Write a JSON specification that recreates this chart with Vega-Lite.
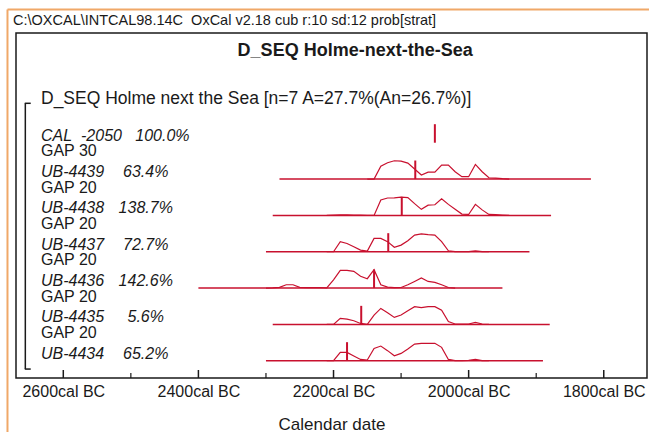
{
  "$schema": "https://vega.github.io/schema/vega-lite/v6.json",
  "width": 631,
  "height": 345,
  "autosize": {"type": "none"},
  "padding": {"left": 16, "top": 33, "right": 2, "bottom": 57},
  "background": "white",
  "config": {
    "view": {"stroke": "#1a1a1a", "strokeWidth": 1.5},
    "font": "Liberation Sans",
    "text": {"font": "Liberation Sans", "color": "#1a1a1a"},
    "axisX": {
      "labelExpr": "(-datum.value) + 'cal BC'",
      "ticks": false,
      "domain": false, "grid": false,
      "labelFont": "Liberation Sans", "labelFontSize": 16, "labelColor": "#1a1a1a",
      "labelPadding": 5, "labelFlush": false, "labelOverlap": false,
      "titleFont": "Liberation Sans", "titleFontSize": 17, "titleFontWeight": "normal",
      "titleColor": "#1a1a1a", "titlePadding": 17
    }
  },
  "datasets": {
    "curves": [
      {"s":"UB-4439","r":1,"year":-2150,"p":0},{"s":"UB-4439","r":1,"year":-2140,"p":0},{"s":"UB-4439","r":1,"year":-2130,"p":0.7},{"s":"UB-4439","r":1,"year":-2120,"p":0.89},{"s":"UB-4439","r":1,"year":-2110,"p":1.0},{"s":"UB-4439","r":1,"year":-2100,"p":0.98},{"s":"UB-4439","r":1,"year":-2090,"p":0.87},{"s":"UB-4439","r":1,"year":-2080,"p":0.55},{"s":"UB-4439","r":1,"year":-2070,"p":0.22},{"s":"UB-4439","r":1,"year":-2060,"p":0.38},{"s":"UB-4439","r":1,"year":-2050,"p":0.38},{"s":"UB-4439","r":1,"year":-2040,"p":0.76},{"s":"UB-4439","r":1,"year":-2030,"p":0.76},{"s":"UB-4439","r":1,"year":-2020,"p":0.4},{"s":"UB-4439","r":1,"year":-2010,"p":0.13},{"s":"UB-4439","r":1,"year":-2000,"p":0.13},{"s":"UB-4439","r":1,"year":-1990,"p":0.8},{"s":"UB-4439","r":1,"year":-1980,"p":0.4},{"s":"UB-4439","r":1,"year":-1970,"p":0.07},{"s":"UB-4439","r":1,"year":-1960,"p":0.05},{"s":"UB-4439","r":1,"year":-1950,"p":0.02},{"s":"UB-4439","r":1,"year":-1940,"p":0},
      {"s":"UB-4438","r":2,"year":-2210,"p":0},{"s":"UB-4438","r":2,"year":-2200,"p":0.02},{"s":"UB-4438","r":2,"year":-2190,"p":0.03},{"s":"UB-4438","r":2,"year":-2180,"p":0.03},{"s":"UB-4438","r":2,"year":-2170,"p":0.02},{"s":"UB-4438","r":2,"year":-2160,"p":0.01},{"s":"UB-4438","r":2,"year":-2150,"p":0},{"s":"UB-4438","r":2,"year":-2140,"p":0},{"s":"UB-4438","r":2,"year":-2130,"p":0.84},{"s":"UB-4438","r":2,"year":-2120,"p":0.95},{"s":"UB-4438","r":2,"year":-2110,"p":0.96},{"s":"UB-4438","r":2,"year":-2100,"p":1.0},{"s":"UB-4438","r":2,"year":-2090,"p":0.97},{"s":"UB-4438","r":2,"year":-2080,"p":0.64},{"s":"UB-4438","r":2,"year":-2070,"p":0.33},{"s":"UB-4438","r":2,"year":-2060,"p":0.56},{"s":"UB-4438","r":2,"year":-2050,"p":0.58},{"s":"UB-4438","r":2,"year":-2040,"p":0.9},{"s":"UB-4438","r":2,"year":-2030,"p":0.6},{"s":"UB-4438","r":2,"year":-2020,"p":0.33},{"s":"UB-4438","r":2,"year":-2010,"p":0.07},{"s":"UB-4438","r":2,"year":-2000,"p":0.05},{"s":"UB-4438","r":2,"year":-1990,"p":0.6},{"s":"UB-4438","r":2,"year":-1980,"p":0.3},{"s":"UB-4438","r":2,"year":-1970,"p":0.05},{"s":"UB-4438","r":2,"year":-1960,"p":0.04},{"s":"UB-4438","r":2,"year":-1950,"p":0.02},{"s":"UB-4438","r":2,"year":-1940,"p":0},
      {"s":"UB-4437","r":3,"year":-2210,"p":0},{"s":"UB-4437","r":3,"year":-2200,"p":0},{"s":"UB-4437","r":3,"year":-2190,"p":0.55},{"s":"UB-4437","r":3,"year":-2180,"p":0.45},{"s":"UB-4437","r":3,"year":-2170,"p":0.27},{"s":"UB-4437","r":3,"year":-2160,"p":0.09},{"s":"UB-4437","r":3,"year":-2150,"p":0.04},{"s":"UB-4437","r":3,"year":-2140,"p":0.73},{"s":"UB-4437","r":3,"year":-2130,"p":0.73},{"s":"UB-4437","r":3,"year":-2120,"p":0.55},{"s":"UB-4437","r":3,"year":-2110,"p":0.24},{"s":"UB-4437","r":3,"year":-2100,"p":0.36},{"s":"UB-4437","r":3,"year":-2090,"p":0.6},{"s":"UB-4437","r":3,"year":-2080,"p":0.91},{"s":"UB-4437","r":3,"year":-2070,"p":0.97},{"s":"UB-4437","r":3,"year":-2060,"p":0.93},{"s":"UB-4437","r":3,"year":-2050,"p":0.91},{"s":"UB-4437","r":3,"year":-2040,"p":0.55},{"s":"UB-4437","r":3,"year":-2030,"p":0.05},{"s":"UB-4437","r":3,"year":-2020,"p":0.01},{"s":"UB-4437","r":3,"year":-2010,"p":0},{"s":"UB-4437","r":3,"year":-2000,"p":0.01},{"s":"UB-4437","r":3,"year":-1990,"p":0.05},{"s":"UB-4437","r":3,"year":-1980,"p":0.01},{"s":"UB-4437","r":3,"year":-1970,"p":0},
      {"s":"UB-4436","r":4,"year":-2300,"p":0},{"s":"UB-4436","r":4,"year":-2290,"p":0.01},{"s":"UB-4436","r":4,"year":-2280,"p":0.04},{"s":"UB-4436","r":4,"year":-2270,"p":0.18},{"s":"UB-4436","r":4,"year":-2260,"p":0.18},{"s":"UB-4436","r":4,"year":-2250,"p":0.04},{"s":"UB-4436","r":4,"year":-2240,"p":0.02},{"s":"UB-4436","r":4,"year":-2230,"p":0.02},{"s":"UB-4436","r":4,"year":-2220,"p":0.02},{"s":"UB-4436","r":4,"year":-2210,"p":0.01},{"s":"UB-4436","r":4,"year":-2200,"p":0.45},{"s":"UB-4436","r":4,"year":-2190,"p":0.97},{"s":"UB-4436","r":4,"year":-2180,"p":0.97},{"s":"UB-4436","r":4,"year":-2170,"p":0.91},{"s":"UB-4436","r":4,"year":-2160,"p":0.64},{"s":"UB-4436","r":4,"year":-2150,"p":0.51},{"s":"UB-4436","r":4,"year":-2140,"p":1.0},{"s":"UB-4436","r":4,"year":-2130,"p":0.18},{"s":"UB-4436","r":4,"year":-2120,"p":0.05},{"s":"UB-4436","r":4,"year":-2110,"p":0.02},{"s":"UB-4436","r":4,"year":-2100,"p":0.03},{"s":"UB-4436","r":4,"year":-2090,"p":0.18},{"s":"UB-4436","r":4,"year":-2080,"p":0.36},{"s":"UB-4436","r":4,"year":-2070,"p":0.55},{"s":"UB-4436","r":4,"year":-2060,"p":0.36},{"s":"UB-4436","r":4,"year":-2050,"p":0.31},{"s":"UB-4436","r":4,"year":-2040,"p":0.18},{"s":"UB-4436","r":4,"year":-2030,"p":0.03},{"s":"UB-4436","r":4,"year":-2020,"p":0},
      {"s":"UB-4435","r":5,"year":-2210,"p":0},{"s":"UB-4435","r":5,"year":-2200,"p":0},{"s":"UB-4435","r":5,"year":-2190,"p":0.33},{"s":"UB-4435","r":5,"year":-2180,"p":0.29},{"s":"UB-4435","r":5,"year":-2170,"p":0.2},{"s":"UB-4435","r":5,"year":-2160,"p":0.05},{"s":"UB-4435","r":5,"year":-2150,"p":0},{"s":"UB-4435","r":5,"year":-2140,"p":0.51},{"s":"UB-4435","r":5,"year":-2130,"p":0.87},{"s":"UB-4435","r":5,"year":-2120,"p":0.64},{"s":"UB-4435","r":5,"year":-2110,"p":0.38},{"s":"UB-4435","r":5,"year":-2100,"p":0.51},{"s":"UB-4435","r":5,"year":-2090,"p":0.75},{"s":"UB-4435","r":5,"year":-2080,"p":0.97},{"s":"UB-4435","r":5,"year":-2070,"p":0.91},{"s":"UB-4435","r":5,"year":-2060,"p":0.97},{"s":"UB-4435","r":5,"year":-2050,"p":0.97},{"s":"UB-4435","r":5,"year":-2040,"p":0.78},{"s":"UB-4435","r":5,"year":-2030,"p":0.15},{"s":"UB-4435","r":5,"year":-2020,"p":0.02},{"s":"UB-4435","r":5,"year":-2010,"p":0.01},{"s":"UB-4435","r":5,"year":-2000,"p":0.02},{"s":"UB-4435","r":5,"year":-1990,"p":0.11},{"s":"UB-4435","r":5,"year":-1980,"p":0.02},{"s":"UB-4435","r":5,"year":-1970,"p":0},
      {"s":"UB-4434","r":6,"year":-2210,"p":0},{"s":"UB-4434","r":6,"year":-2200,"p":0},{"s":"UB-4434","r":6,"year":-2190,"p":0.45},{"s":"UB-4434","r":6,"year":-2180,"p":0.45},{"s":"UB-4434","r":6,"year":-2170,"p":0.26},{"s":"UB-4434","r":6,"year":-2160,"p":0.07},{"s":"UB-4434","r":6,"year":-2150,"p":0.04},{"s":"UB-4434","r":6,"year":-2140,"p":0.67},{"s":"UB-4434","r":6,"year":-2130,"p":0.8},{"s":"UB-4434","r":6,"year":-2120,"p":0.55},{"s":"UB-4434","r":6,"year":-2110,"p":0.27},{"s":"UB-4434","r":6,"year":-2100,"p":0.4},{"s":"UB-4434","r":6,"year":-2090,"p":0.64},{"s":"UB-4434","r":6,"year":-2080,"p":0.91},{"s":"UB-4434","r":6,"year":-2070,"p":0.95},{"s":"UB-4434","r":6,"year":-2060,"p":0.95},{"s":"UB-4434","r":6,"year":-2050,"p":0.95},{"s":"UB-4434","r":6,"year":-2040,"p":0.73},{"s":"UB-4434","r":6,"year":-2030,"p":0.07},{"s":"UB-4434","r":6,"year":-2020,"p":0},{"s":"UB-4434","r":6,"year":-2010,"p":0},{"s":"UB-4434","r":6,"year":-2000,"p":0.02},{"s":"UB-4434","r":6,"year":-1990,"p":0.07},{"s":"UB-4434","r":6,"year":-1980,"p":0},{"s":"UB-4434","r":6,"year":-1970,"p":0}
    ],
    "ranges": [
      {"s":"UB-4439","r":1,"start":-2280,"end":-1819},
      {"s":"UB-4438","r":2,"start":-2290,"end":-1878},
      {"s":"UB-4437","r":3,"start":-2300,"end":-1910},
      {"s":"UB-4436","r":4,"start":-2400,"end":-1950},
      {"s":"UB-4435","r":5,"start":-2290,"end":-1880},
      {"s":"UB-4434","r":6,"start":-2300,"end":-1890}
    ],
    "medians": [
      {"s":"CAL","r":0,"year":-2050},
      {"s":"UB-4439","r":1,"year":-2079},
      {"s":"UB-4438","r":2,"year":-2099},
      {"s":"UB-4437","r":3,"year":-2119},
      {"s":"UB-4436","r":4,"year":-2140},
      {"s":"UB-4435","r":5,"year":-2159},
      {"s":"UB-4434","r":6,"year":-2180}
    ],
    "labels": [
      {"r":0,"name":"CAL\u00a0\u00a0-2050\u00a0\u00a0\u00a0100.0%","pct":"","gap":"GAP 30"},
      {"r":1,"name":"UB-4439","pct":"63.4%","gap":"GAP 20"},
      {"r":2,"name":"UB-4438","pct":"138.7%","gap":"GAP 20"},
      {"r":3,"name":"UB-4437","pct":"72.7%","gap":"GAP 20"},
      {"r":4,"name":"UB-4436","pct":"142.6%","gap":"GAP 20"},
      {"r":5,"name":"UB-4435","pct":"5.6%","gap":"GAP 20"},
      {"r":6,"name":"UB-4434","pct":"65.2%","gap":""}
    ],
    "majorTicks": [{"year":-2600},{"year":-2400},{"year":-2200},{"year":-2000},{"year":-1800}],
    "minorTicks": [{"year":-2500},{"year":-2300},{"year":-2100},{"year":-1900}]
  },
  "layer": [
    {
      "data": {"name": "ranges"},
      "mark": {"type": "rule", "color": "#c8102e", "strokeWidth": 1.5},
      "encoding": {
        "x": {"field": "start", "type": "quantitative",
          "scale": {"domain": [-2670, -1736], "nice": false, "zero": false},
          "title": "Calendar date", "axis": {"values": [-2600, -2400, -2200, -2000, -1800]}},
        "x2": {"field": "end"},
        "y": {"field": "r", "type": "quantitative",
          "scale": {"domain": [-3.02, 6.476], "nice": false, "zero": false, "reverse": true}, "axis": null}
      }
    },
    {
      "data": {"name": "majorTicks"},
      "mark": {"type": "rule", "color": "#1a1a1a", "strokeWidth": 1.5},
      "encoding": {
        "x": {"field": "year", "type": "quantitative", "scale": {"domain": [-2670, -1736], "nice": false, "zero": false}, "title": "Calendar date", "axis": {"values": [-2600, -2400, -2200, -2000, -1800]}},
        "y": {"datum": 6.476, "type": "quantitative", "scale": {"domain": [-3.02, 6.476], "nice": false, "zero": false, "reverse": true}, "axis": null},
        "y2": {"datum": 6.256}
      }
    },
    {
      "data": {"name": "minorTicks"},
      "mark": {"type": "rule", "color": "#1a1a1a", "strokeWidth": 1.2},
      "encoding": {
        "x": {"field": "year", "type": "quantitative", "scale": {"domain": [-2670, -1736], "nice": false, "zero": false}, "title": "Calendar date", "axis": {"values": [-2600, -2400, -2200, -2000, -1800]}},
        "y": {"datum": 6.476, "type": "quantitative", "scale": {"domain": [-3.02, 6.476], "nice": false, "zero": false, "reverse": true}, "axis": null},
        "y2": {"datum": 6.34}
      }
    },
    {
      "data": {"name": "curves"},
      "transform": [{"calculate": "datum.r - datum.p * 0.504", "as": "yv"}],
      "mark": {"type": "line", "color": "#c8102e", "strokeWidth": 1.2, "interpolate": "linear"},
      "encoding": {
        "x": {"field": "year", "type": "quantitative", "scale": {"domain": [-2670, -1736], "nice": false, "zero": false}, "title": "Calendar date", "axis": {"values": [-2600, -2400, -2200, -2000, -1800]}},
        "y": {"field": "yv", "type": "quantitative", "scale": {"domain": [-3.02, 6.476], "nice": false, "zero": false, "reverse": true}, "axis": null},
        "detail": {"field": "s"}
      }
    },
    {
      "data": {"name": "medians"},
      "transform": [{"calculate": "datum.r - 0.51", "as": "top"}],
      "mark": {"type": "rule", "color": "#c8102e", "strokeWidth": 2},
      "encoding": {
        "x": {"field": "year", "type": "quantitative", "scale": {"domain": [-2670, -1736], "nice": false, "zero": false}, "title": "Calendar date", "axis": {"values": [-2600, -2400, -2200, -2000, -1800]}},
        "y": {"field": "r", "type": "quantitative", "scale": {"domain": [-3.02, 6.476], "nice": false, "zero": false, "reverse": true}, "axis": null},
        "y2": {"field": "top"}
      }
    },
    {
      "data": {"name": "labels"},
      "mark": {"type": "text", "align": "left", "baseline": "middle", "fontSize": 16, "fontStyle": "italic", "dy": -7},
      "encoding": {
        "x": {"datum": -2633, "type": "quantitative", "scale": {"domain": [-2670, -1736], "nice": false, "zero": false}, "title": "Calendar date", "axis": {"values": [-2600, -2400, -2200, -2000, -1800]}},
        "y": {"field": "r", "type": "quantitative", "scale": {"domain": [-3.02, 6.476], "nice": false, "zero": false, "reverse": true}, "axis": null},
        "text": {"field": "name"}
      }
    },
    {
      "data": {"name": "labels"},
      "mark": {"type": "text", "align": "center", "baseline": "middle", "fontSize": 16, "fontStyle": "italic", "dy": -7},
      "encoding": {
        "x": {"datum": -2478, "type": "quantitative", "scale": {"domain": [-2670, -1736], "nice": false, "zero": false}, "title": "Calendar date", "axis": {"values": [-2600, -2400, -2200, -2000, -1800]}},
        "y": {"field": "r", "type": "quantitative", "scale": {"domain": [-3.02, 6.476], "nice": false, "zero": false, "reverse": true}, "axis": null},
        "text": {"field": "pct"}
      }
    },
    {
      "data": {"name": "labels"},
      "mark": {"type": "text", "align": "left", "baseline": "middle", "fontSize": 16, "dy": 8.5},
      "encoding": {
        "x": {"datum": -2633, "type": "quantitative", "scale": {"domain": [-2670, -1736], "nice": false, "zero": false}, "title": "Calendar date", "axis": {"values": [-2600, -2400, -2200, -2000, -1800]}},
        "y": {"field": "r", "type": "quantitative", "scale": {"domain": [-3.02, 6.476], "nice": false, "zero": false, "reverse": true}, "axis": null},
        "text": {"field": "gap"}
      }
    },
    {
      "data": {"values": [{}]},
      "mark": {"type": "rule", "color": "#1a1a1a", "strokeWidth": 1.5},
      "encoding": {
        "x": {"datum": -2656.2, "type": "quantitative", "scale": {"domain": [-2670, -1736], "nice": false, "zero": false}, "title": "Calendar date", "axis": {"values": [-2600, -2400, -2200, -2000, -1800]}},
        "y": {"datum": -1.085, "type": "quantitative", "scale": {"domain": [-3.02, 6.476], "nice": false, "zero": false, "reverse": true}, "axis": null},
        "y2": {"datum": 6.23}
      }
    },
    {
      "data": {"values": [{}]},
      "mark": {"type": "rule", "color": "#1a1a1a", "strokeWidth": 1.5},
      "encoding": {
        "x": {"datum": -2657, "type": "quantitative", "scale": {"domain": [-2670, -1736], "nice": false, "zero": false}, "title": "Calendar date", "axis": {"values": [-2600, -2400, -2200, -2000, -1800]}},
        "x2": {"datum": -2648.2},
        "y": {"datum": -1.085, "type": "quantitative", "scale": {"domain": [-3.02, 6.476], "nice": false, "zero": false, "reverse": true}, "axis": null}
      }
    },
    {
      "data": {"values": [{}]},
      "mark": {"type": "rule", "color": "#1a1a1a", "strokeWidth": 1.5},
      "encoding": {
        "x": {"datum": -2657, "type": "quantitative", "scale": {"domain": [-2670, -1736], "nice": false, "zero": false}, "title": "Calendar date", "axis": {"values": [-2600, -2400, -2200, -2000, -1800]}},
        "x2": {"datum": -2648.2},
        "y": {"datum": 6.23, "type": "quantitative", "scale": {"domain": [-3.02, 6.476], "nice": false, "zero": false, "reverse": true}, "axis": null}
      }
    },
    {
      "data": {"values": [{}]},
      "mark": {"type": "rule", "color": "#f0a868", "strokeWidth": 2},
      "encoding": {
        "x": {"datum": -2682.6, "type": "quantitative", "scale": {"domain": [-2670, -1736], "nice": false, "zero": false}, "title": "Calendar date", "axis": {"values": [-2600, -2400, -2200, -2000, -1800]}},
        "y": {"datum": -3.667, "type": "quantitative", "scale": {"domain": [-3.02, 6.476], "nice": false, "zero": false, "reverse": true}, "axis": null},
        "y2": {"datum": 7.96}
      }
    },
    {
      "data": {"values": [{}]},
      "mark": {"type": "rule", "color": "#f0a868", "strokeWidth": 2},
      "encoding": {
        "x": {"datum": -2682.6, "type": "quantitative", "scale": {"domain": [-2670, -1736], "nice": false, "zero": false}, "title": "Calendar date", "axis": {"values": [-2600, -2400, -2200, -2000, -1800]}},
        "x2": {"datum": -1700},
        "y": {"datum": -3.667, "type": "quantitative", "scale": {"domain": [-3.02, 6.476], "nice": false, "zero": false, "reverse": true}, "axis": null}
      }
    },
    {
      "data": {"values": [{"t": "C:\\OXCAL\\INTCAL98.14C\u00a0\u00a0OxCal v2.18 cub r:10 sd:12 prob[strat]"}]},
      "mark": {"type": "text", "align": "left", "baseline": "middle", "fontSize": 14.5},
      "encoding": {
        "x": {"datum": -2674.4, "type": "quantitative", "scale": {"domain": [-2670, -1736], "nice": false, "zero": false}, "title": "Calendar date", "axis": {"values": [-2600, -2400, -2200, -2000, -1800]}},
        "y": {"datum": -3.35, "type": "quantitative", "scale": {"domain": [-3.02, 6.476], "nice": false, "zero": false, "reverse": true}, "axis": null},
        "text": {"field": "t"}
      }
    },
    {
      "data": {"values": [{"t": "D_SEQ Holme-next-the-Sea"}]},
      "mark": {"type": "text", "align": "center", "baseline": "middle", "fontSize": 18, "fontWeight": "bold"},
      "encoding": {
        "x": {"datum": -2168, "type": "quantitative", "scale": {"domain": [-2670, -1736], "nice": false, "zero": false}, "title": "Calendar date", "axis": {"values": [-2600, -2400, -2200, -2000, -1800]}},
        "y": {"datum": -2.52, "type": "quantitative", "scale": {"domain": [-3.02, 6.476], "nice": false, "zero": false, "reverse": true}, "axis": null},
        "text": {"field": "t"}
      }
    },
    {
      "data": {"values": [{"t": "D_SEQ Holme next the Sea [n=7 A=27.7%(An=26.7%)]"}]},
      "mark": {"type": "text", "align": "left", "baseline": "middle", "fontSize": 17.5},
      "encoding": {
        "x": {"datum": -2633, "type": "quantitative", "scale": {"domain": [-2670, -1736], "nice": false, "zero": false}, "title": "Calendar date", "axis": {"values": [-2600, -2400, -2200, -2000, -1800]}},
        "y": {"datum": -1.19, "type": "quantitative", "scale": {"domain": [-3.02, 6.476], "nice": false, "zero": false, "reverse": true}, "axis": null},
        "text": {"field": "t"}
      }
    }
  ]
}
